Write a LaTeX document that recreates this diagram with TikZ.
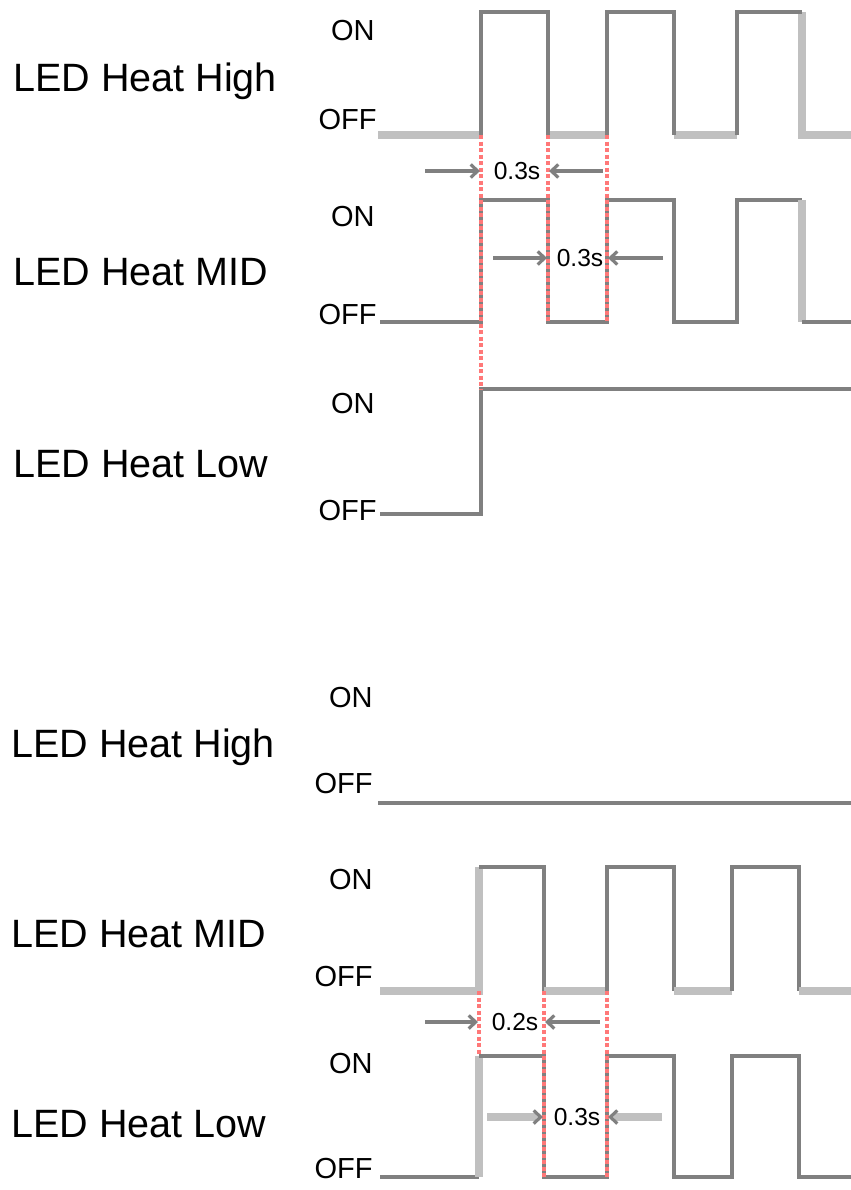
\documentclass[tikz,border=0pt]{standalone}
\usepackage{fontspec}
\setmainfont{Liberation Sans}
\usepackage{tikz}
\usetikzlibrary{arrows.meta}
\definecolor{wavegray}{HTML}{808080}
\definecolor{lightwave}{HTML}{C0C0C0}
\definecolor{markred}{HTML}{FF7878}
\tikzstyle{rowname} = [anchor=base west, inner sep=0pt, font=\fontsize{22.5}{27}\selectfont]
\tikzstyle{onoff} = [anchor=east, inner sep=0pt, font=\fontsize{16.5}{19}\selectfont]
\tikzstyle{spantext} = [inner sep=0pt, font=\fontsize{14}{16}\selectfont]
\tikzstyle{wave} = [draw=wavegray, line width=2.3pt]
\tikzstyle{faint} = [draw=lightwave, line width=4pt]
\tikzstyle{cutline} = [draw=markred, line width=2pt, dash pattern=on 2.5pt off 1.2pt]
\tikzstyle{span} = [draw=wavegray, line width=1.8pt, -{Straight Barb[length=4pt,width=7.5pt]}]
\tikzstyle{faintspan} = [draw=lightwave, line width=4pt, -{Straight Barb[length=4pt,width=7.5pt,color=wavegray,line width=1.8pt]}]

\begin{document}
\begin{tikzpicture}[x=0.02cm, y=-0.02cm]
\useasboundingbox (0,0) rectangle (851,1190);

% row names
\node (high1) [rowname] at (13,91) {LED Heat High};
\node (mid1) [rowname] at (13,285) {LED Heat MID};
\node (low1) [rowname] at (13,477) {LED Heat Low};
\node (high2) [rowname] at (11,757) {LED Heat High};
\node (mid2) [rowname] at (11,947) {LED Heat MID};
\node (low2) [rowname] at (11,1137) {LED Heat Low};

% levels
\node (on1) [onoff] at (375,31) {ON};
\node (off1) [onoff] at (377,120) {OFF};
\node (on2) [onoff] at (375,217) {ON};
\node (off2) [onoff] at (377,315) {OFF};
\node (on3) [onoff] at (375,404) {ON};
\node (off3) [onoff] at (377,511) {OFF};
\node (on4) [onoff] at (373,698) {ON};
\node (off4) [onoff] at (373,784) {OFF};
\node (on5) [onoff] at (373,880) {ON};
\node (off5) [onoff] at (373,977) {OFF};
\node (on6) [onoff] at (373,1064) {ON};
\node (off6) [onoff] at (373,1169) {OFF};

% High (top)
\draw [faint] (378,135) -- (481,135);
\draw [faint] (548,135) -- (607,135);
\draw [faint] (674,135) -- (737,135);
\draw [faint] (802,12) -- (802,135) -- (851,135);
\draw [wave] (481,135) -- (481,12) -- (548,12) -- (548,135);
\draw [wave] (607,135) -- (607,12) -- (674,12) -- (674,135);
\draw [wave] (737,135) -- (737,12) -- (802,12);

% MID (top)
\draw [wave] (380,322) -- (481,322) -- (481,200) -- (548,200) -- (548,322) -- (607,322) -- (607,200) -- (674,200) -- (674,322) -- (737,322) -- (737,200) -- (802,200);
\draw [faint] (802,200) -- (802,322);
\draw [wave] (802,322) -- (851,322);

% Low (top)
\draw [wave] (380,514) -- (481,514) -- (481,389) -- (851,389);

% High (bottom)
\draw [wave] (378,803) -- (851,803);

% MID (bottom)
\draw [faint] (380,991) -- (479,991) -- (479,867);
\draw [wave] (479,867) -- (544,867) -- (544,991);
\draw [faint] (544,991) -- (607,991);
\draw [wave] (607,991) -- (607,867) -- (674,867) -- (674,991);
\draw [faint] (674,991) -- (732,991);
\draw [wave] (732,991) -- (732,867) -- (799,867) -- (799,991);
\draw [faint] (799,991) -- (851,991);

% Low (bottom)
\draw [wave] (380,1177) -- (479,1177);
\draw [faint] (479,1177) -- (479,1056);
\draw [wave] (479,1056) -- (544,1056) -- (544,1177) -- (607,1177) -- (607,1056) -- (674,1056) -- (674,1177) -- (732,1177) -- (732,1056) -- (799,1056) -- (799,1177) -- (851,1177);

% red guides
\draw [cutline] (481,135) -- (481,389);
\draw [cutline] (548,135) -- (548,322);
\draw [cutline] (607,135) -- (607,322);
\draw [cutline] (479,991) -- (479,1056);
\draw [cutline] (544,991) -- (544,1177);
\draw [cutline] (607,991) -- (607,1177);

% timings
\node (t1) [spantext] at (517,171) {0.3s};
\coordinate (t1a) at (425,171);
\coordinate (t1b) at (480,171);
\coordinate (t1c) at (549,171);
\coordinate (t1d) at (603,171);
\draw [span] (t1a) -- (t1b);
\draw [span] (t1d) -- (t1c);

\node (t2) [spantext] at (580,258) {0.3s};
\coordinate (t2a) at (493,258);
\coordinate (t2b) at (547,258);
\coordinate (t2c) at (608,258);
\coordinate (t2d) at (663,258);
\draw [span] (t2a) -- (t2b);
\draw [span] (t2d) -- (t2c);

\node (t3) [spantext] at (515,1022) {0.2s};
\coordinate (t3a) at (425,1022);
\coordinate (t3b) at (478,1022);
\coordinate (t3c) at (545,1022);
\coordinate (t3d) at (600,1022);
\draw [span] (t3a) -- (t3b);
\draw [span] (t3d) -- (t3c);

\node (t4) [spantext] at (577,1117) {0.3s};
\coordinate (t4a) at (487,1117);
\coordinate (t4b) at (543,1117);
\coordinate (t4c) at (608,1117);
\coordinate (t4d) at (662,1117);
\draw [faintspan] (t4a) -- (t4b);
\draw [faintspan] (t4d) -- (t4c);
\end{tikzpicture}
\end{document}
